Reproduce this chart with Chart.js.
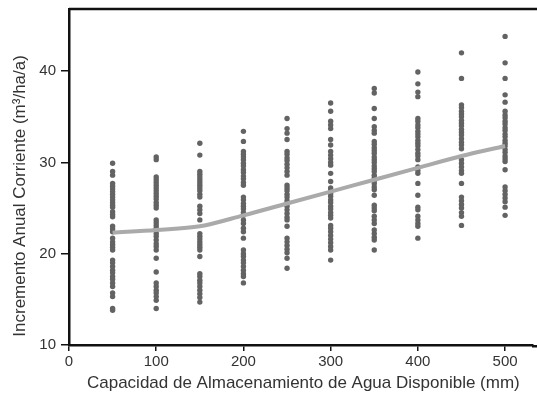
<!DOCTYPE html>
<html>
<head>
<meta charset="utf-8">
<script src="https://cdn.jsdelivr.net/npm/chart.js@4"></script>
<style>
  html, body { margin: 0; padding: 0; background: #fff; }
  #wrap { width: 537px; height: 401px; }
</style>
</head>
<body>
<div id="wrap"><canvas id="iacChart"></canvas></div>
<script>
// capacidad de almacenamiento (mm) de cada columna
const capacidad = [50, 100, 150, 200, 250, 300, 350, 400, 450, 500];

// IAC observado por columna (m3/ha/a)
const iac50 = [29.9, 29.0, 28.6, 27.7, 27.4, 27.1, 26.8, 26.5, 26.2, 25.9, 25.6, 25.3, 25.1, 24.6, 24.3, 24.05, 23.0, 22.7, 22.4, 21.7, 21.3, 21.0, 20.7, 20.4, 19.3, 19.0, 18.6, 18.2, 17.9, 17.5, 17.2, 16.8, 16.4, 15.7, 15.3, 14.0, 13.8];
const iac100 = [30.6, 30.3, 28.4, 28.1, 27.8, 27.5, 27.2, 26.9, 26.6, 26.3, 26.0, 25.6, 25.3, 25.0, 23.7, 23.4, 23.1, 22.8, 22.5, 22.2, 21.9, 21.5, 21.1, 20.8, 20.4, 19.5, 18.0, 16.8, 16.4, 16.0, 15.7, 15.3, 14.9, 14.0];
const iac150 = [32.1, 30.8, 29.0, 28.7, 28.4, 28.1, 27.8, 27.5, 27.2, 26.9, 26.5, 26.2, 25.2, 24.8, 24.4, 23.7, 22.2, 21.9, 21.6, 21.3, 21.0, 20.7, 20.4, 19.7, 17.8, 17.5, 17.1, 16.8, 16.4, 16.0, 15.6, 15.2, 14.7];
const iac200 = [33.4, 32.3, 31.2, 30.9, 30.6, 30.3, 29.9, 29.6, 29.2, 28.9, 28.5, 28.2, 27.8, 27.5, 26.2, 25.9, 25.5, 25.2, 24.9, 24.5, 24.2, 23.7, 23.3, 22.8, 22.4, 21.7, 20.4, 20.0, 19.7, 19.3, 19.0, 18.6, 18.2, 17.8, 17.5, 16.8];
const iac250 = [34.8, 33.7, 33.2, 32.5, 31.2, 30.9, 30.5, 30.2, 29.8, 29.4, 29.0, 28.6, 27.5, 27.2, 26.9, 26.5, 26.2, 25.8, 25.5, 25.2, 24.8, 24.4, 24.0, 23.7, 23.0, 21.7, 21.3, 20.9, 20.5, 20.1, 19.5, 18.4];
const iac300 = [36.5, 35.6, 34.5, 34.1, 33.7, 32.5, 31.9, 31.2, 30.8, 30.4, 30.0, 29.7, 28.8, 27.9, 27.2, 26.9, 26.6, 26.3, 25.9, 25.6, 25.2, 24.9, 24.5, 24.2, 23.9, 23.1, 22.8, 22.4, 22.0, 21.6, 21.2, 20.8, 20.4, 19.3];
const iac350 = [38.1, 37.6, 35.9, 34.8, 33.9, 33.5, 33.2, 32.3, 32.0, 31.6, 31.3, 31.0, 30.6, 30.3, 30.0, 29.6, 29.3, 29.0, 28.6, 28.3, 28.0, 27.7, 27.3, 27.0, 26.4, 25.3, 25.0, 24.7, 24.1, 23.7, 23.3, 22.6, 22.2, 21.8, 21.5, 20.4];
const iac400 = [39.9, 38.6, 37.7, 37.2, 34.8, 34.5, 34.1, 33.8, 33.4, 33.1, 32.8, 32.4, 32.1, 31.8, 31.4, 31.0, 30.7, 30.3, 29.5, 29.1, 28.8, 27.7, 26.4, 25.1, 24.8, 24.1, 23.7, 23.3, 23.0, 21.7];
const iac450 = [42.0, 39.2, 36.3, 36.0, 35.6, 35.3, 35.0, 34.6, 34.3, 34.0, 33.6, 33.3, 33.0, 32.6, 32.2, 31.9, 31.5, 30.3, 29.9, 29.5, 29.1, 28.8, 27.7, 26.2, 25.8, 25.4, 25.0, 24.5, 24.1, 23.1];
const iac500 = [43.8, 40.9, 39.2, 37.4, 36.6, 35.6, 35.2, 34.9, 34.5, 34.2, 33.8, 33.5, 33.1, 32.8, 32.4, 32.1, 31.8, 31.4, 31.1, 30.7, 30.4, 30.1, 29.2, 27.3, 26.9, 26.5, 26.1, 25.7, 25.1, 24.2];

// curva ajustada
const curvaIAC = [22.3, 22.6, 23.0, 24.2, 25.5, 26.8, 28.1, 29.4, 30.7, 31.8];

const yTicks = [10, 20, 30, 40];
const xTicks = [0, 100, 200, 300, 400, 500];

const columnas = [iac50, iac100, iac150, iac200, iac250, iac300, iac350, iac400, iac450, iac500];
const puntos = [];
columnas.forEach((col, i) => {
  col.forEach(v => puntos.push({ x: capacidad[i], y: v }));
});
const curva = capacidad.map((c, i) => ({ x: c, y: curvaIAC[i] }));

// borde superior y prolongacion del eje x hasta el borde derecho
const bordes = {
  id: 'bordes',
  afterDraw(chart) {
    const { ctx, chartArea } = chart;
    ctx.save();
    ctx.strokeStyle = '#111';
    ctx.lineWidth = 2.5;
    ctx.beginPath();
    ctx.moveTo(chartArea.left, chartArea.top);
    ctx.lineTo(chart.width, chartArea.top);
    ctx.moveTo(chartArea.right - 1, chartArea.bottom + 1.25);
    ctx.lineTo(chart.width, chartArea.bottom + 1.25);
    ctx.stroke();
    ctx.restore();
  }
};

const fuenteTicks = { family: 'Liberation Sans, Arial, sans-serif', size: 15 };
const fuenteTitulo = { family: 'Liberation Sans, Arial, sans-serif', size: 17 };

new Chart(document.getElementById('iacChart'), {
  type: 'scatter',
  data: {
    datasets: [
      {
        type: 'line',
        data: curva,
        borderColor: '#aaaaaa',
        borderWidth: 4,
        pointRadius: 0,
        cubicInterpolationMode: 'monotone',
        fill: false,
        order: 0
      },
      {
        data: puntos,
        backgroundColor: '#636363',
        borderWidth: 0,
        pointRadius: 2.7,
        order: 1
      }
    ]
  },
  options: {
    responsive: true,
    maintainAspectRatio: false,
    animation: false,
    layout: { padding: { top: 9, right: 0, left: 10, bottom: 7 } },
    plugins: { legend: { display: false }, tooltip: { enabled: false } },
    scales: {
      x: {
        type: 'linear',
        min: 0,
        max: 532,
        afterBuildTicks: (s) => { s.ticks = xTicks.map(v => ({ value: v })); },
        afterFit: (s) => { s.height = 49; },
        grid: { drawOnChartArea: false, tickLength: 6, color: '#111', lineWidth: 1.5 },
        border: { display: true, color: '#111', width: 2.5 },
        ticks: { color: '#333', font: fuenteTicks, padding: 2, maxRotation: 0 },
        title: {
          display: true,
          text: ' Capacidad de Almacenamiento de Agua Disponible (mm)',
          color: '#333',
          font: fuenteTitulo,
          padding: { top: 4, bottom: 0 }
        }
      },
      y: {
        min: 10,
        max: 46.8,
        afterBuildTicks: (s) => { s.ticks = yTicks.map(v => ({ value: v })); },
        afterFit: (s) => { s.width = 59; s.paddingTop = 0; s.paddingBottom = 0; },
        grid: { drawOnChartArea: false, tickLength: 8, color: '#111', lineWidth: 1.5 },
        border: { display: true, color: '#111', width: 2.5 },
        ticks: { color: '#333', font: fuenteTicks, padding: 5 },
        title: {
          display: true,
          text: 'Incremento Anual Corriente (m³/ha/a)        ',
          color: '#333',
          font: fuenteTitulo,
          padding: { top: 0, bottom: 4 }
        }
      }
    }
  },
  plugins: [bordes]
});
</script>
</body>
</html>
